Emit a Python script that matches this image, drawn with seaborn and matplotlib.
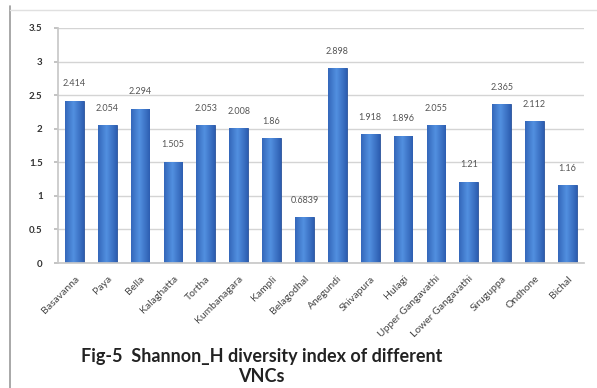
import matplotlib
matplotlib.use("Agg")
import matplotlib.pyplot as plt
import numpy as np
import pandas as pd
import seaborn as sns
from matplotlib.lines import Line2D
from matplotlib.colors import LinearSegmentedColormap

sites = ["Basavanna", "Paya", "Bella", "Kalaghatta", "Tortha", "Kumbanagara",
         "Kampli", "Belagodhal", "Anegundi", "Shivapura", "Hulagi",
         "Upper Gangavathi", "Lower Gangavathi", "Siruguppa", "Ondhone", "Bichal"]
values = [2.414, 2.054, 2.294, 1.505, 2.053, 2.008, 1.86, 0.6839, 2.898,
          1.918, 1.896, 2.055, 1.21, 2.365, 2.112, 1.16]
value_labels = ["2.414", "2.054", "2.294", "1.505", "2.053", "2.008", "1.86",
                "0.6839", "2.898", "1.918", "1.896", "2.055", "1.21", "2.365",
                "2.112", "1.16"]
yticks = [0, 0.5, 1, 1.5, 2, 2.5, 3, 3.5]
ytick_labels = ["0", "0.5", "1", "1.5", "2", "2.5", "3", "3.5"]
title = "Fig-5  Shannon_H diversity index of different\nVNCs"

sns.set_theme(style="white")
plt.rcParams["font.family"] = ["Lato", "DejaVu Sans"]

df = pd.DataFrame({"site": sites, "H": values})

fig = plt.figure(figsize=(5.97, 3.88), dpi=100)
ax = fig.add_axes([0.097, 0.322, 0.881, 0.606])

sns.barplot(data=df, x="site", y="H", ax=ax, color="#3B6DC2", width=0.57,
            edgecolor="#2A5299", linewidth=0.6, saturation=1)

# gradient fill clipped to each bar
grad = np.linspace(0, 1, 64)
grad = 1 - np.abs(grad - 0.45) * 1.6
grad = np.clip(grad, 0, 1)[None, :]
cmap = LinearSegmentedColormap.from_list("b", ["#2857AB", "#5290E0"])
for p in ax.patches:
    x0, y0 = p.get_x(), p.get_y()
    w, h = p.get_width(), p.get_height()
    im = ax.imshow(grad, cmap=cmap, aspect="auto", extent=[x0, x0 + w, y0, y0 + h],
                   zorder=p.get_zorder() + 0.1, vmin=0, vmax=1)
    im.set_clip_path(p)

ax.set_xlim(-0.5, len(sites) - 0.5)
ax.set_ylim(0, 3.5)
ax.set_yticks(yticks)
ax.set_yticklabels(ytick_labels, fontsize=7, color="#333333", fontweight="bold")
ax.yaxis.grid(True, color="#d4d4d4", linewidth=1.0)
ax.set_axisbelow(True)
ax.set_xlabel("")
ax.set_ylabel("")
ax.set_xticks(range(len(sites)))
ax.set_xticklabels(sites, rotation=45, ha="right", rotation_mode="anchor",
                   fontsize=7.5, color="#444444")
ax.tick_params(axis="x", length=0, pad=8)
ax.tick_params(axis="y", length=3, color="#bbbbbb", pad=8, left=True)
for s in ["top", "right"]:
    ax.spines[s].set_visible(False)
ax.spines["left"].set_color("#c8c8c8")
ax.spines["bottom"].set_color("#c8c8c8")

for i, (v, lab) in enumerate(zip(values, value_labels)):
    ax.annotate(lab, (i, v), xytext=(0, 9), textcoords="offset points",
                ha="center", va="bottom", fontsize=6.5, color="#555555")

fig.text(0.438, 0.055, title, ha="center", va="center", fontsize=13,
         fontweight="bold", color="#222222", linespacing=1.25)

# chart frame lines
fig.add_artist(Line2D([10/597, 10/597], [0, 1 - 6/388], transform=fig.transFigure,
                      color="#9a9a9a", linewidth=1.2))
fig.add_artist(Line2D([10/597, 1], [1 - 10/388, 1 - 10/388], transform=fig.transFigure,
                      color="#e0e0e0", linewidth=1.0))

fig.savefig("out.png", dpi=100)
